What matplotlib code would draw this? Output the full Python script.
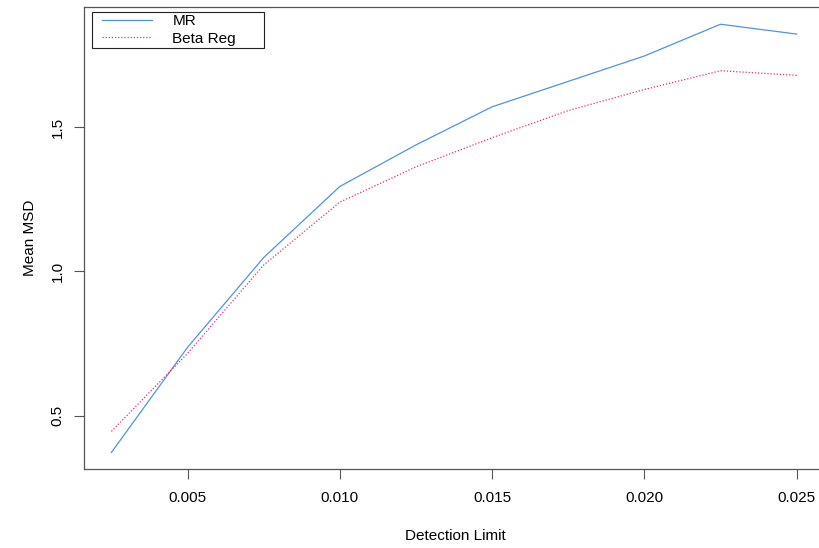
import matplotlib
matplotlib.use("Agg")
import matplotlib.pyplot as plt
from matplotlib.patches import Rectangle

plt.rcParams['font.family'] = ['Liberation Sans', 'DejaVu Sans']

detection_limit = [0.0025, 0.005, 0.0075, 0.010, 0.0125, 0.015, 0.0175, 0.020, 0.0225, 0.025]
mr = [0.373, 0.737, 1.048, 1.294, 1.438, 1.570, 1.658, 1.746, 1.856, 1.822]
beta_reg = [0.446, 0.716, 1.022, 1.240, 1.362, 1.463, 1.557, 1.630, 1.695, 1.679]
x_ticks = [0.005, 0.010, 0.015, 0.020, 0.025]
x_tick_labels = ["0.005", "0.010", "0.015", "0.020", "0.025"]
y_ticks = [0.5, 1.0, 1.5]
y_tick_labels = ["0.5", "1.0", "1.5"]

FS = 11
W, H = 820, 548
fig = plt.figure(figsize=(W / 100, H / 100), dpi=100)
left, right, top, bottom = 84, 824, 7, 469
ax = fig.add_axes([left / W, (H - bottom) / H, (right - left) / W, (bottom - top) / H])

ax.plot(detection_limit, mr, color="#4f93e0", lw=0.9, label="MR")
ax.plot(detection_limit, beta_reg, color="#e0307a", lw=0.9, ls=(0, (1, 1.5)), label="Beta Reg")

ax.set_xlim(0.0016, 0.0259)
ax.set_ylim(0.3157, 1.9157)
ax.set_xticks(x_ticks)
ax.set_xticklabels(x_tick_labels)
ax.set_yticks(y_ticks)
ax.set_yticklabels(y_tick_labels, rotation=90, va="center")
ax.tick_params(direction="out", length=7, width=0.8, color="#555555", labelsize=FS, pad=9)
ax.tick_params(axis="y", pad=7)
for s in ax.spines.values():
    s.set_color("#555555")
    s.set_linewidth(0.9)

fig.text(455 / W, 1 - 536 / H, "Detection Limit", ha="center", va="center", fontsize=FS)
fig.text(30 / W, 1 - 238 / H, "Mean MSD", ha="center", va="center", rotation=90, fontsize=FS)

# legend box (R-style, with wide right padding)
bx0, by0, bx1, by1 = 92, 12, 264, 48
fig.add_artist(Rectangle((bx0 / W, 1 - by1 / H), (bx1 - bx0) / W, (by1 - by0) / H,
                         transform=fig.transFigure, fill=True, facecolor="white",
                         edgecolor="#222222", linewidth=0.8, zorder=5))
leg = fig.legend(*ax.get_legend_handles_labels(), loc="upper left",
                 bbox_to_anchor=(102 / W, 1 - 14 / H), bbox_transform=fig.transFigure,
                 frameon=False, borderaxespad=0, borderpad=0, handlelength=3.3, handletextpad=1.3,
                 fontsize=FS, labelspacing=0.25)
leg.set_zorder(6)

fig.savefig("out.png", dpi=100)
